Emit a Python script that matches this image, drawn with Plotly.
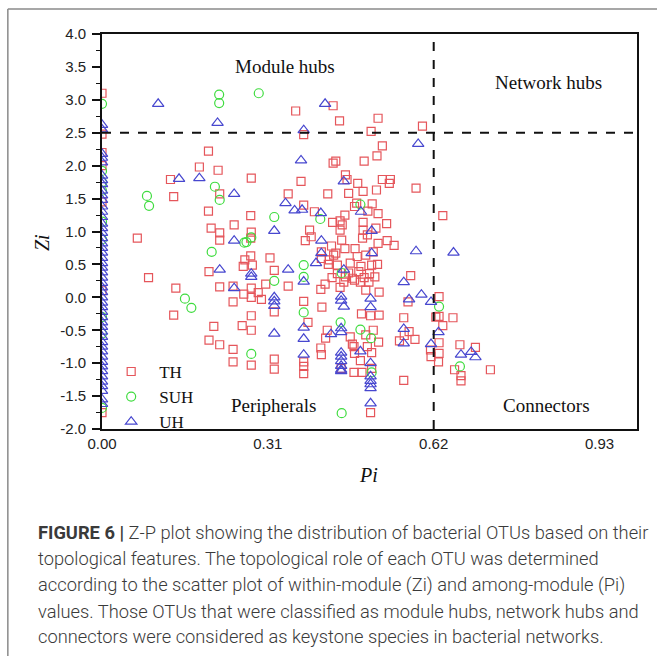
import plotly.graph_objects as go

# ---------------- data ----------------
th_pi = [0, 0, 0, 0, 0, 0, 0,
         0.362, 0.432, 0.444, 0.516, 0.503, 0.599, 0.377, 0.524, 0.199, 0.514, 0.437, 0.432, 0.490, 0.182,
         0.217, 0.128, 0.279, 0.372, 0.455, 0.458, 0.478, 0.488, 0.524, 0.539, 0.537, 0.513, 0.587, 0.134,
         0.220, 0.348, 0.422, 0.461, 0.505, 0.377, 0.199, 0.278, 0.397, 0.476, 0.472, 0.497, 0.516, 0.637,
         0.454, 0.431, 0.445, 0.247, 0.532, 0.204, 0.220, 0.279, 0.388, 0.445, 0.488, 0.449, 0.512, 0.488,
         0.066, 0.220, 0.278, 0.380, 0.391, 0.448, 0.487, 0.496, 0.516, 0.533, 0.546, 0.429, 0.410, 0.278,
         0.314, 0.267, 0.264, 0.281, 0.200, 0.322, 0.425, 0.437, 0.454, 0.473, 0.477, 0.493, 0.507, 0.410,
         0.433, 0.423, 0.440, 0.464, 0.484, 0.504, 0.515, 0.461, 0.480, 0.440, 0.500, 0.472, 0.577, 0.087,
         0.138, 0.220, 0.245, 0.279, 0.306, 0.348, 0.417, 0.409, 0.445, 0.452, 0.468, 0.483, 0.499, 0.493,
         0.518, 0.265, 0.279, 0.292, 0.298, 0.630, 0.245, 0.377, 0.411, 0.322, 0.572, 0.134, 0.279, 0.485,
         0.502, 0.518, 0.564, 0.624, 0.630, 0.656, 0.385, 0.637, 0.209, 0.262, 0.279, 0.421, 0.507, 0.574,
         0.464, 0.418, 0.493, 0.200, 0.517, 0.556, 0.565, 0.585, 0.630, 0.220, 0.669, 0.471, 0.698, 0.245,
         0.409, 0.496, 0.614, 0.472, 0.630, 0.615, 0.410, 0.504, 0.322, 0.377, 0.629, 0.245, 0.279, 0.322,
         0.377, 0.377, 0.447, 0.471, 0.486, 0.504, 0.659, 0.671, 0.671, 0.726, 0.564, 0.502, 0.468, 0.483,
         0.430, 0.455, 0.490, 0.510]
th_zi = [3.10, 2.48, 2.20, 2.00, 1.45, 0.10, -1.75,
         2.83, 2.91, 2.68, 2.72, 2.52, 2.60, 2.47, 2.30, 2.22, 2.15, 2.07, 2.04, 2.07, 1.98,
         1.93, 1.79, 1.81, 1.76, 1.86, 1.79, 1.73, 1.61, 1.79, 1.79, 1.73, 1.63, 1.66, 1.53,
         1.57, 1.57, 1.57, 1.58, 1.42, 1.40, 1.31, 1.24, 1.30, 1.43, 1.38, 1.31, 1.27, 1.24,
         1.25, 1.14, 1.16, 1.10, 1.12, 1.05, 0.98, 0.99, 1.02, 1.02, 1.14, 1.10, 1.05, 1.02,
         0.90, 0.87, 0.90, 0.86, 0.92, 0.87, 0.90, 0.95, 0.82, 0.86, 0.79, 0.78, 0.69, 0.63,
         0.60, 0.57, 0.47, 0.49, 0.39, 0.41, 0.57, 0.67, 0.74, 0.74, 0.62, 0.64, 0.69, 0.59,
         0.64, 0.50, 0.49, 0.52, 0.47, 0.49, 0.50, 0.37, 0.39, 0.36, 0.36, 0.26, 0.33, 0.30,
         0.14, 0.16, 0.17, 0.14, 0.20, 0.17, 0.20, 0.12, 0.15, 0.23, 0.29, 0.23, 0.23, 0.11,
         0.08, 0.05, 0.00, 0.07, -0.03, 0.01, -0.07, -0.06, -0.15, -0.22, -0.07, -0.27, -0.28, -0.25,
         -0.28, -0.27, -0.31, -0.30, -0.29, -0.31, -0.38, -0.43, -0.44, -0.43, -0.50, -0.50, -0.50, -0.52,
         -0.60, -0.62, -0.57, -0.65, -0.68, -0.66, -0.58, -0.64, -0.69, -0.72, -0.72, -0.75, -0.76, -0.79,
         -0.77, -0.75, -0.80, -0.85, -0.85, -0.90, -0.87, -0.84, -0.94, -0.98, -0.98, -0.98, -1.03, -1.09,
         -1.05, -1.16, -1.08, -1.14, -1.14, -1.08, -1.10, -1.19, -1.27, -1.10, -1.26, -1.75, -0.71, -0.96,
         0.30, 0.31, 0.30, 0.31]

suh_pi = [0, 0, 0, 0, 0, 0, 0, 0, 0,
          0.219, 0.219, 0.293, 0.211, 0.084, 0.088, 0.220, 0.483, 0.322, 0.408, 0.279, 0.270, 0.266,
          0.205, 0.377, 0.377, 0.448, 0.322, 0.155, 0.167, 0.630, 0.377, 0.446, 0.483, 0.503, 0.279,
          0.504, 0.669, 0.448]
suh_zi = [2.94, 1.92, 1.75, 1.62, 1.15, 0.88, -0.30, -0.55, -1.68,
          3.08, 2.95, 3.10, 1.68, 1.54, 1.39, 1.48, 1.41, 1.22, 1.19, 0.91, 0.84, 0.83,
          0.69, 0.49, 0.31, 0.37, 0.25, -0.02, -0.16, -0.14, -0.23, -0.38, -0.49, -0.62, -0.86,
          -1.14, -1.05, -1.76]

uh_zero_zi = [2.62, 2.55, 2.18, 2.12, 2.05, 1.85, 1.78, 1.72, 1.62, 1.55, 1.48, 1.38, 1.30, 1.22,
              1.12, 1.05, 0.98, 0.90, 0.82, 0.75, 0.68, 0.60, 0.52, 0.45, 0.38, 0.30, 0.22, 0.15,
              0.08, 0.00, -0.08, -0.15, -0.22, -0.30, -0.38, -0.45, -0.52, -0.60, -0.68, -0.75,
              -0.82, -0.90, -0.98, -1.05, -1.12, -1.20, -1.28, -1.35, -1.42, -1.55, -1.62]
uh_pi = [0] * len(uh_zero_zi) + [
    0.105, 0.417, 0.216, 0.377, 0.591, 0.372, 0.144, 0.182, 0.452, 0.247, 0.343, 0.360, 0.374, 0.409,
    0.484, 0.322, 0.504, 0.247, 0.410, 0.410, 0.504, 0.587, 0.657, 0.400, 0.220, 0.348, 0.452, 0.279,
    0.279, 0.377, 0.564, 0.247, 0.597, 0.322, 0.322, 0.322, 0.447, 0.447, 0.452, 0.502, 0.502, 0.574,
    0.615, 0.377, 0.564, 0.629, 0.322, 0.447, 0.447, 0.428, 0.377, 0.615, 0.564, 0.483, 0.447, 0.447,
    0.447, 0.447, 0.447, 0.447, 0.377, 0.502, 0.502, 0.502, 0.502, 0.502, 0.502, 0.671, 0.690, 0.698]
uh_zi = uh_zero_zi + [
    2.94, 2.94, 2.65, 2.54, 2.33, 2.08, 1.80, 1.81, 1.76, 1.57, 1.43, 1.32, 1.33, 1.28,
    1.30, 1.01, 1.01, 0.86, 0.86, 0.67, 0.67, 0.70, 0.68, 0.52, 0.42, 0.42, 0.42, 0.36,
    0.31, 0.24, 0.23, 0.14, 0.04, 0.00, -0.06, -0.13, 0.01, -0.05, -0.14, -0.02, -0.15, -0.03,
    -0.07, -0.46, -0.48, -0.53, -0.55, -0.47, -0.53, -0.56, -0.63, -0.71, -0.70, -0.82, -0.84, -0.90,
    -0.97, -1.04, -1.10, -1.12, -0.87, -1.00, -1.20, -1.27, -1.32, -1.38, -1.61, -0.87, -0.83, -0.91]

PI_CUT = 0.62
ZI_CUT = 2.5
x_tickvals = [0.00, 0.31, 0.62, 0.93]
x_ticktext = ["0.00", "0.31", "0.62", "0.93"]
y_tickvals = [-2.0, -1.5, -1.0, -0.5, 0.0, 0.5, 1.0, 1.5, 2.0, 2.5, 3.0, 3.5, 4.0]
y_ticktext = ["-2.0", "-1.5", "-1.0", "-0.5", "0.0", "0.5", "1.0", "1.5", "2.0", "2.5", "3.0", "3.5", "4.0"]
region_labels = ["Module hubs", "Network hubs", "Peripherals", "Connectors"]
region_pi = [0.342, 0.834, 0.320, 0.830]
region_zi = [3.50, 3.27, -1.65, -1.64]

caption_lines = [
    "<b>FIGURE 6 |</b> Z-P plot showing the distribution of bacterial OTUs based on their",
    "topological features. The topological role of each OTU was determined",
    "according to the scatter plot of within-module (Zi) and among-module (Pi)",
    "values. Those OTUs that were classified as module hubs, network hubs and",
    "connectors were considered as keystone species in bacterial networks.",
]

# ---------------- figure ----------------
RED = "#E5565B"
GREEN = "#3FDC3F"
BLUE = "#4747CF"
SERIF = "Liberation Serif, Times New Roman, serif"
SANS = "Liberation Sans, Arial, sans-serif"

fig = go.Figure()
fig.add_trace(go.Scatter(x=th_pi, y=th_zi, mode="markers", name="TH",
                         marker=dict(symbol="square-open", size=8, color=RED, line=dict(width=1.2, color=RED))))
fig.add_trace(go.Scatter(x=suh_pi, y=suh_zi, mode="markers", name="SUH",
                         marker=dict(symbol="circle-open", size=9, color=GREEN, line=dict(width=1.2, color=GREEN))))
fig.add_trace(go.Scatter(x=uh_pi, y=uh_zi, mode="markers", name="UH",
                         marker=dict(symbol="triangle-up-open", size=10, color=BLUE, line=dict(width=1.2, color=BLUE))))

# threshold lines
fig.add_shape(type="line", xref="x", yref="y", x0=PI_CUT, x1=PI_CUT, y0=-2, y1=4,
              line=dict(color="#111", width=2, dash="dash"))
fig.add_shape(type="line", xref="x", yref="y", x0=0, x1=1.0, y0=ZI_CUT, y1=ZI_CUT,
              line=dict(color="#111", width=2, dash="dash"))

# outer frame (top + left edges of the figure panel)
fig.add_shape(type="line", xref="paper", yref="paper", x0=-0.176, x1=1.04, y0=1.063, y1=1.063,
              line=dict(color="#8a8a8a", width=1.5))
fig.add_shape(type="line", xref="paper", yref="paper", x0=-0.176, x1=-0.176, y0=1.063, y1=-0.58,
              line=dict(color="#8a8a8a", width=1.5))

for lab, px, zy in zip(region_labels, region_pi, region_zi):
    fig.add_annotation(x=px, y=zy, xref="x", yref="y", text=lab, showarrow=False,
                       xanchor="center", yanchor="middle",
                       font=dict(family=SERIF, size=19, color="#111"))

# axis titles
fig.add_annotation(x=-0.112, y=0.471, xref="paper", yref="paper", text="<i>Zi</i>", showarrow=False,
                   xanchor="center", yanchor="middle",
                   textangle=-90, font=dict(family=SERIF, size=20, color="#111"))
fig.add_annotation(x=0.499, y=-0.116, xref="paper", yref="paper", text="<i>Pi</i>", showarrow=False,
                   xanchor="center", yanchor="middle",
                   font=dict(family=SERIF, size=20, color="#111"))

# caption
cap_y = [-0.263, -0.329, -0.395, -0.461, -0.526]
for line, yy in zip(caption_lines, cap_y):
    fig.add_annotation(x=-0.1234, y=yy, xref="paper", yref="paper", text=line, showarrow=False,
                       xanchor="left", yanchor="middle",
                       font=dict(family="Roboto, Liberation Sans, sans-serif", size=18.3, weight=300,
                                 color="#3a3a3a"))

fig.update_layout(
    width=657, height=656, autosize=False,
    margin=dict(l=102, r=20, t=34, b=227, pad=0),
    paper_bgcolor="white", plot_bgcolor="white",
    showlegend=True,
    legend=dict(x=0.0022, y=0.19, xanchor="left", yanchor="top", bgcolor="rgba(0,0,0,0)",
                font=dict(family=SERIF, size=17, color="#111"), tracegroupgap=0, itemwidth=46),
    xaxis=dict(range=[0, 1.0], tickvals=x_tickvals, ticktext=x_ticktext, showgrid=False, zeroline=False,
               showline=True, linecolor="#111", linewidth=1.6, mirror=True,
               ticks="", tickfont=dict(family=SANS, size=15, color="#222")),
    yaxis=dict(range=[-2, 4], tickvals=y_tickvals, ticktext=y_ticktext, showgrid=False, zeroline=False,
               showline=True, linecolor="#111", linewidth=1.6, mirror=True,
               ticks="outside", ticklen=8, tickwidth=1.5, tickcolor="#111", ticklabelstandoff=3,
               minor=dict(dtick=0.25, tick0=0, ticks="outside", ticklen=4, tickwidth=1.2, tickcolor="#111"),
               tickfont=dict(family=SANS, size=15, color="#222")),
)

fig.write_html("out.html", config={"displayModeBar": False},
               post_script="document.body.style.margin='0';document.body.style.overflow='hidden';")
